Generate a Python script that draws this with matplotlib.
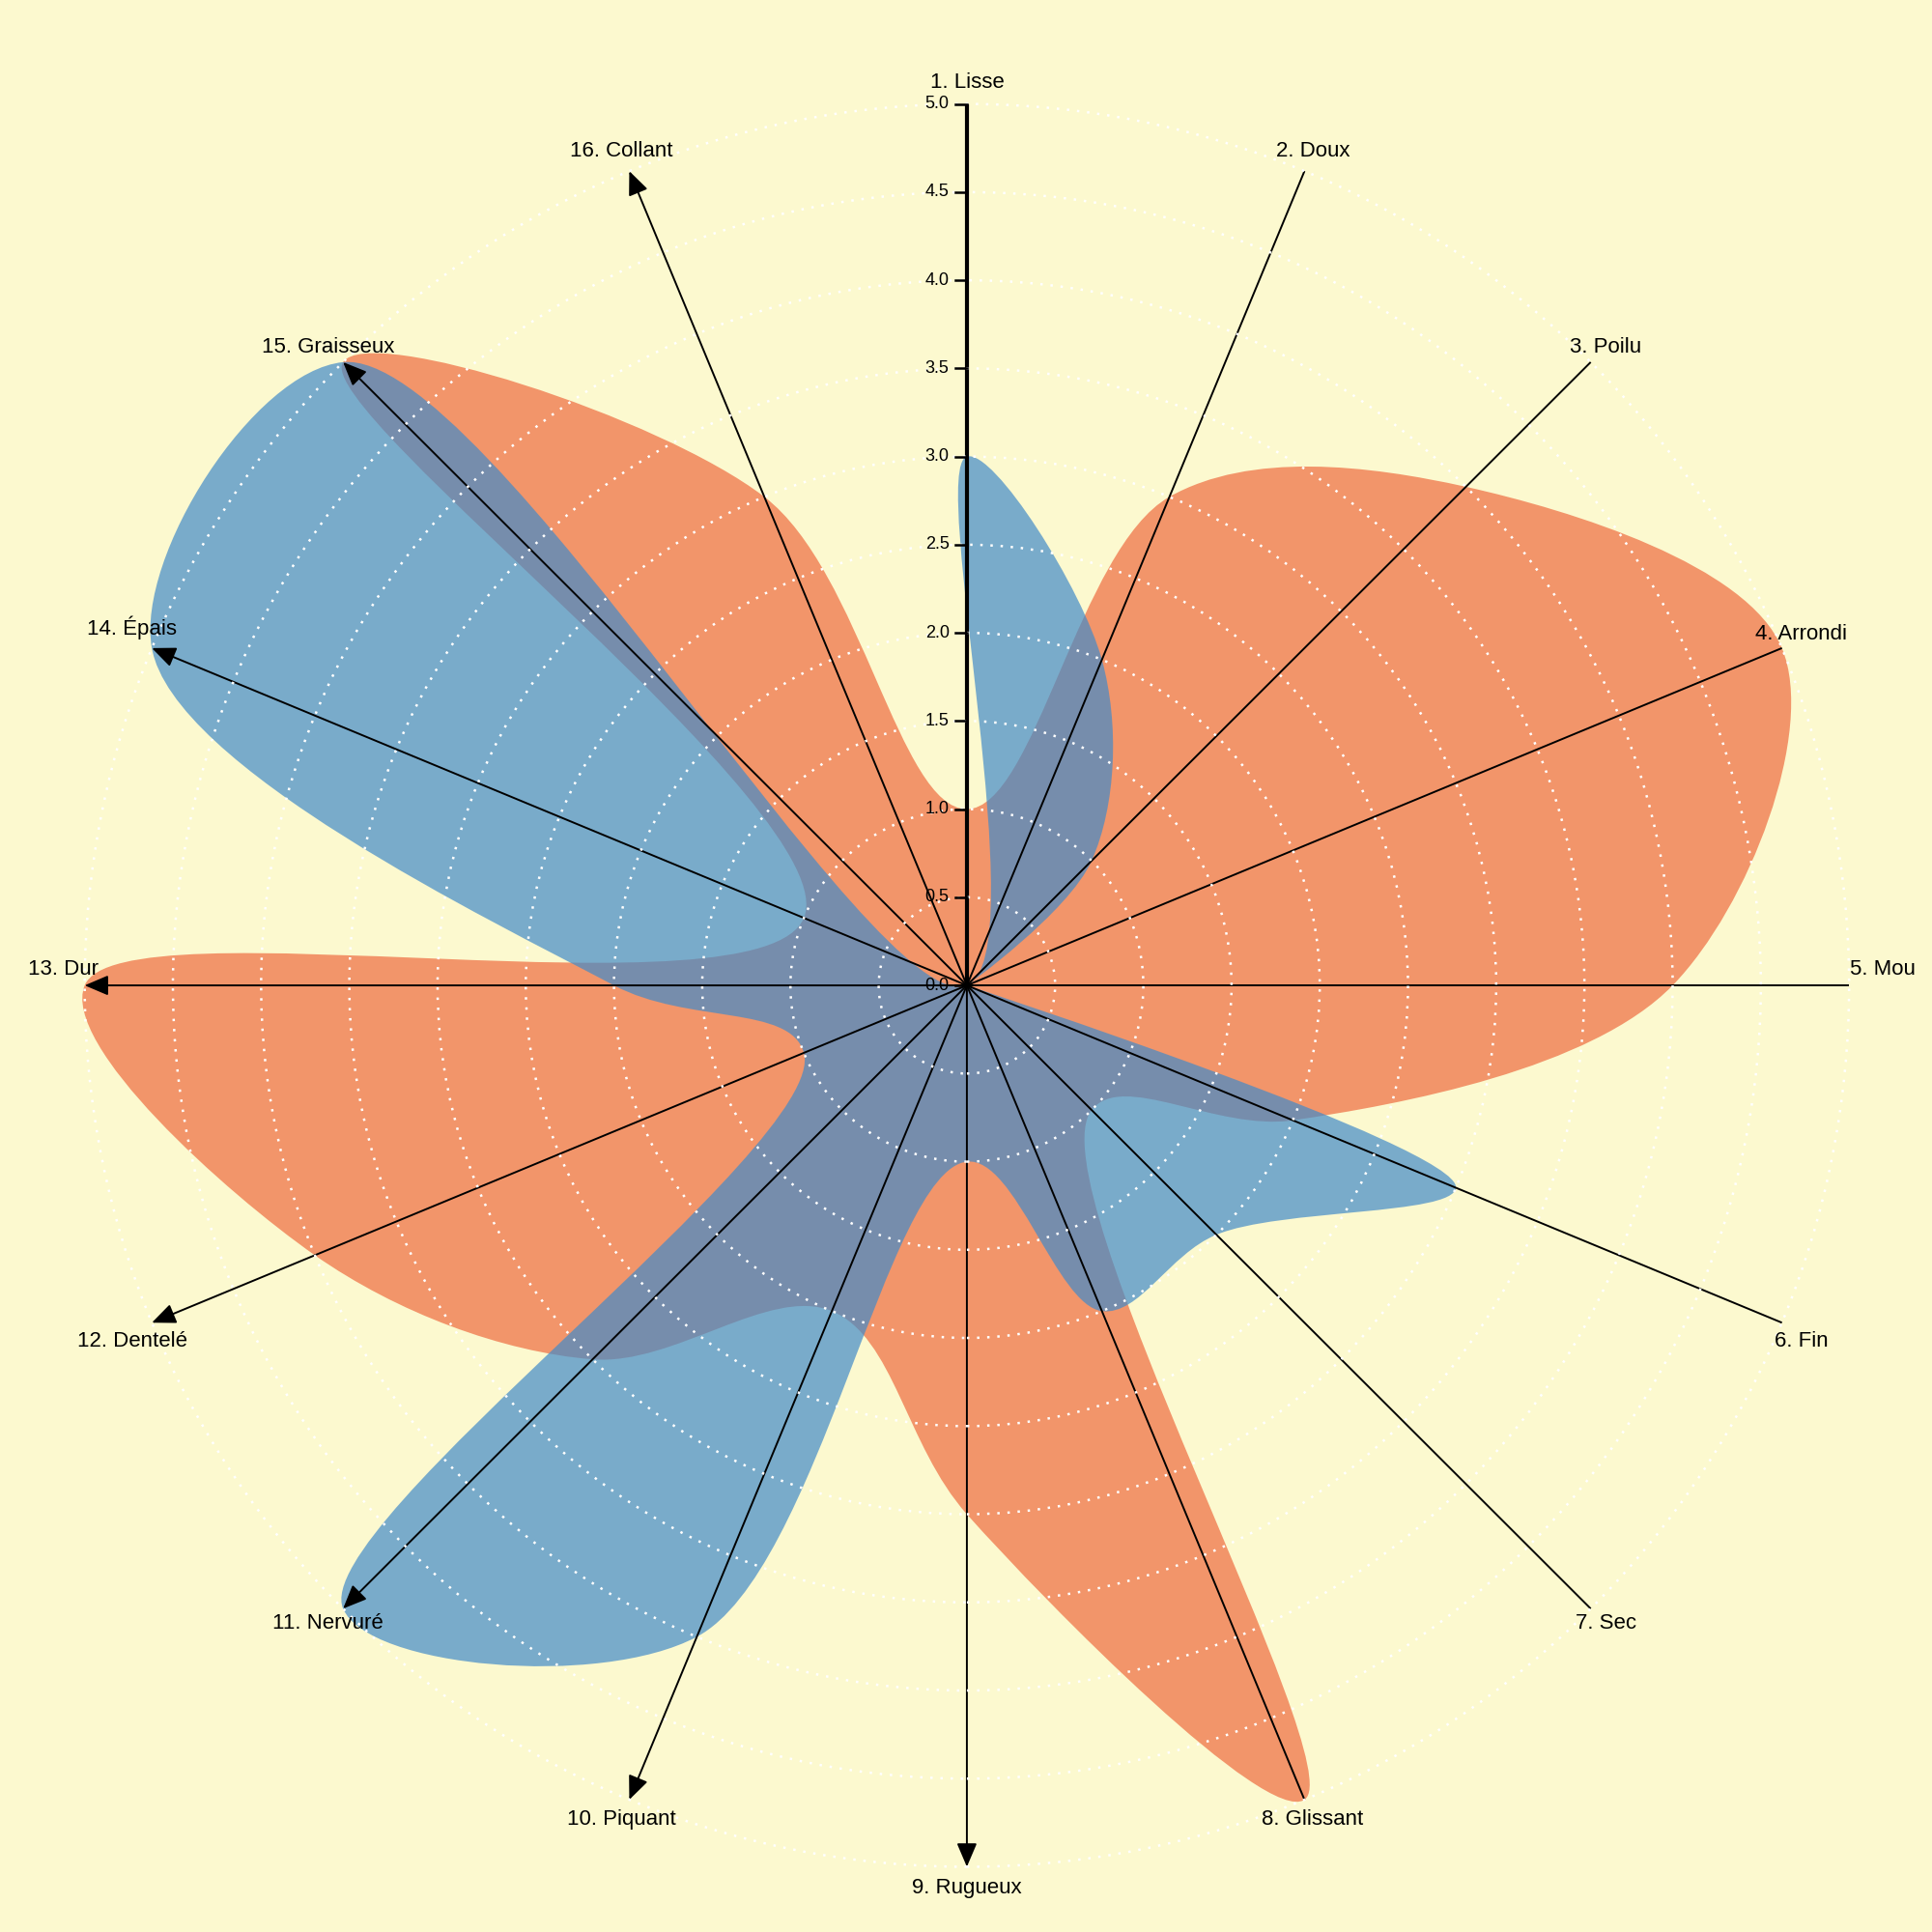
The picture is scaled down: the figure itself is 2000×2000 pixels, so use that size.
import numpy as np
import matplotlib
matplotlib.use('Agg')
import matplotlib.pyplot as plt
from matplotlib.path import Path
from matplotlib.patches import PathPatch, Circle


LABELS = ['1. Lisse', '2. Doux', '3. Poilu', '4. Arrondi', '5. Mou', '6. Fin', '7. Sec', '8. Glissant',
          '9. Rugueux', '10. Piquant', '11. Nervuré', '12. Dentelé', '13. Dur', '14. Épais',
          '15. Graisseux', '16. Collant']
ORANGE_VALUES = [1.0, 3.0, 4.0, 5.0, 4.0, 2.0, 1.0, 5.0, 3.0, 2.0, 3.0, 4.0, 5.0, 1.0, 5.0, 3.0]
BLUE_VALUES = [3.0, 2.0, 1.0, 0.0, 0.0, 3.0, 2.0, 2.0, 1.0, 4.0, 5.0, 1.0, 2.0, 5.0, 5.0, 0.0]
TICKS = [0.0, 0.5, 1.0, 1.5, 2.0, 2.5, 3.0, 3.5, 4.0, 4.5, 5.0]
MAX_VALUE = 5.0

BG = '#fcf9cf'
ORANGE = '#f2956a'
BLUE = '#428bc9'


def axis_angles(n):
    return np.deg2rad(np.arange(n) * 360.0 / n)


def closed_spline(values, alpha=0.5):
    # centripetal catmull-rom through the points, closed, as bezier segments
    ang = axis_angles(len(values))
    vals = np.asarray(values, dtype=float)
    pts = np.column_stack([np.sin(ang) * vals, np.cos(ang) * vals])
    n = len(pts)
    eps = 1e-9
    verts = [pts[0]]
    codes = [Path.MOVETO]
    for i in range(n):
        p0, p1, p2, p3 = pts[i - 1], pts[i], pts[(i + 1) % n], pts[(i + 2) % n]
        l01 = np.hypot(*(p1 - p0)) ** alpha
        l12 = np.hypot(*(p2 - p1)) ** alpha
        l23 = np.hypot(*(p3 - p2)) ** alpha
        c1, c2 = p1.copy(), p2.copy()
        if l01 > eps:
            a = 2 * l01 ** 2 + 3 * l01 * l12 + l12 ** 2
            m = 3 * l01 * (l01 + l12)
            c1 = (p1 * a - p0 * l12 ** 2 + p2 * l01 ** 2) / m
        if l23 > eps:
            b = 2 * l23 ** 2 + 3 * l23 * l12 + l12 ** 2
            m = 3 * l23 * (l23 + l12)
            c2 = (p2 * b + p1 * l23 ** 2 - p3 * l12 ** 2) / m
        verts += [c1, c2, p2]
        codes += [Path.CURVE4] * 3
    verts.append(pts[0])
    codes.append(Path.CLOSEPOLY)
    return Path(verts, codes)


fig = plt.figure(figsize=(20, 20), dpi=100)
fig.patch.set_facecolor(BG)
ax = fig.add_axes([0, 0, 1, 1])
ax.set_facecolor(BG)
ax.set_xlim(-5.48, 5.47)
ax.set_ylim(-5.37, 5.59)
ax.axis('off')

ax.add_patch(PathPatch(closed_spline(ORANGE_VALUES), facecolor=ORANGE, edgecolor='none', zorder=1))
ax.add_patch(PathPatch(closed_spline(BLUE_VALUES), facecolor=BLUE, alpha=0.7, edgecolor='none', zorder=2))

angles = axis_angles(len(LABELS))
for i, a in enumerate(angles):
    tip = (MAX_VALUE * np.sin(a), MAX_VALUE * np.cos(a))
    if i < 8:
        ax.plot([0, tip[0]], [0, tip[1]], color='black', lw=3.0 if i == 0 else 1.4,
                solid_capstyle='butt', zorder=3)
    else:
        ax.annotate('', xy=tip, xytext=(0, 0), zorder=3,
                    arrowprops=dict(arrowstyle='-|>,head_length=0.75,head_width=0.32', color='black',
                                    lw=1.4, mutation_scale=20, shrinkA=0, shrinkB=0))

# dotted rings
for r in TICKS[1:]:
    ax.add_patch(Circle((0, 0), r, fill=False, edgecolor='white', lw=1.8,
                        linestyle=(0, (1, 3.2)), zorder=4))

# ticks on the first axis
for v in TICKS:
    ax.plot([-0.065, 0], [v, v], color='black', lw=1.8, zorder=5)
    ax.text(-0.1, v, f'{v:.1f}', ha='right', va='center', fontsize=13,
            family='Liberation Sans', zorder=6)

label_shift = {3: (0, 0.035), 4: (0.07, 0.09), 5: (0, -0.06), 11: (0, -0.06),
               12: (0, 0.09), 13: (0, 0.07)}
for i, (a, lab) in enumerate(zip(angles, LABELS)):
    r = 5.12
    dx, dy = label_shift.get(i, (0.0, 0.0))
    ax.text(r * np.sin(a) + dx, r * np.cos(a) + dy, lab, ha='center', va='center',
            fontsize=16, family='Liberation Sans', zorder=6)

plt.savefig('out.png', dpi=100, facecolor=BG)
